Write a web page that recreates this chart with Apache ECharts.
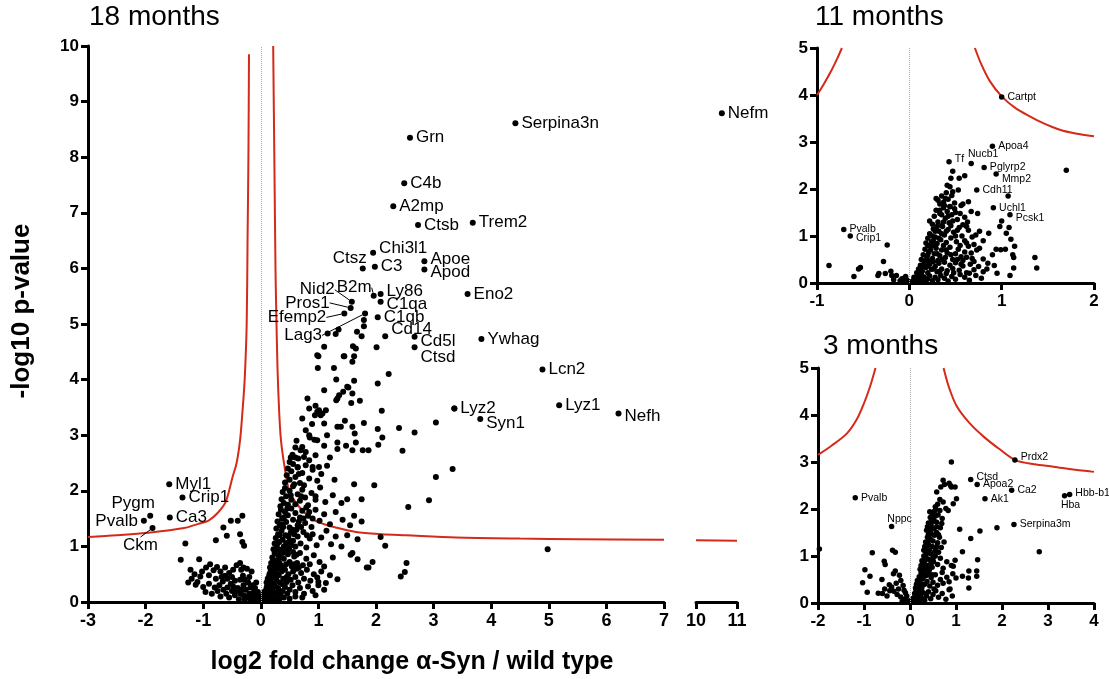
<!DOCTYPE html>
<html>
<head>
<meta charset="utf-8">
<script src="https://cdn.jsdelivr.net/npm/echarts@6/dist/echarts.min.js"></script>
<style>
  html, body { margin: 0; padding: 0; background: #fff; }
  #main { width: 1109px; height: 679px; }
</style>
</head>
<body>
<div id="main"></div>
<script>
var chartDom = document.getElementById('main');
var myChart = echarts.init(chartDom, null, {renderer: 'canvas'});

// ---- 18 months: unlabeled proteins [log2 FC, -log10 p]
var mainPoints = [
  // left cluster
  [-1.22,0.58],[-1.15,0.50],[-1.20,0.42],[-1.10,0.36],[-1.02,0.55],[-0.95,0.62],[-0.88,0.68],[-0.82,0.57],[-0.76,0.63],[-0.70,0.55],
  [-0.62,0.47],[-0.55,0.52],[-0.48,0.58],[-0.42,0.66],[-0.36,0.70],[-0.34,0.58],[-0.31,0.47],[-0.36,0.40],[-0.45,0.38],[-0.52,0.33],
  [-0.58,0.42],[-0.66,0.37],[-0.72,0.30],[-0.80,0.26],[-0.90,0.33],[-1.00,0.27],[-0.96,0.18],[-0.85,0.15],[-0.75,0.20],[-0.65,0.22],
  [-0.60,0.15],[-0.50,0.20],[-0.45,0.12],[-0.40,0.25],[-0.30,0.30],[-0.26,0.22],[-0.22,0.35],[-0.20,0.15],[-0.18,0.26],[-0.15,0.10],
  [-0.12,0.18],[-0.10,0.06],[-0.08,0.12],[-0.06,0.03],[-0.25,0.08],[-0.35,0.15],[-0.55,0.08],[-0.70,0.10],[-0.38,0.05],[-0.30,0.12],
  [-0.14,0.30],[-0.28,0.40],[-0.20,0.45],[-0.16,0.55],[-0.24,0.60],[-0.48,0.28],[-0.58,0.26],[-0.42,0.20],[-0.33,0.22],[-0.28,0.05],
  [-0.22,0.10],[-0.18,0.04],[-0.12,0.02],[-0.04,0.08],[-0.50,0.45],[-0.68,0.45],[-0.78,0.42],[-0.90,0.48],[-1.05,0.46],[-0.62,0.62],
  [-0.30,0.62],[-0.10,0.25],[-0.08,0.35],[-0.05,0.18],[-0.02,0.10],
  [-1.39,0.76],[-1.07,0.77],[-1.26,0.35],[-1.13,0.31],[-0.78,1.11],[-1.31,1.05],[-0.65,1.34],[-0.52,1.46],[-0.40,1.46],[-0.32,1.55],
  [-0.59,1.19],[-0.36,1.22],[-0.32,1.08],[-0.29,1.01],
  // right arm, by height
  [0.00,0.02],[0.03,0.05],[0.05,0.03],[0.07,0.08],[0.10,0.06],[0.12,0.10],[0.15,0.05],[0.18,0.09],[0.22,0.04],[0.27,0.07],
  [0.32,0.05],[0.40,0.08],[0.50,0.06],[0.60,0.10],[-0.02,0.04],[0.08,0.02],
  [0.05,0.15],[0.08,0.20],[0.10,0.25],[0.12,0.14],[0.14,0.30],[0.17,0.18],[0.20,0.22],[0.22,0.13],[0.25,0.28],[0.28,0.17],
  [0.30,0.25],[0.34,0.14],[0.38,0.20],[0.42,0.27],[0.46,0.15],[0.50,0.22],[0.55,0.30],[0.60,0.18],[0.68,0.25],[0.75,0.15],
  [0.82,0.28],[0.90,0.20],[1.00,0.30],[1.10,0.22],[0.95,0.12],[0.72,0.08],
  [0.10,0.35],[0.12,0.42],[0.15,0.50],[0.17,0.38],[0.19,0.58],[0.21,0.45],[0.23,0.33],[0.25,0.52],[0.27,0.40],[0.29,0.60],
  [0.31,0.48],[0.33,0.35],[0.36,0.55],[0.39,0.42],[0.42,0.58],[0.45,0.36],[0.48,0.50],[0.52,0.40],[0.56,0.55],[0.60,0.45],
  [0.65,0.35],[0.70,0.52],[0.75,0.42],[0.80,0.58],[0.86,0.38],[0.92,0.50],[0.98,0.44],[1.05,0.55],[1.13,0.34],[1.20,0.48],
  [1.33,0.41],[1.00,0.36],[0.62,0.60],
  [0.16,0.62],[0.18,0.70],[0.20,0.80],[0.22,0.66],[0.24,0.88],[0.26,0.74],[0.28,0.64],[0.30,0.84],[0.32,0.70],[0.34,0.90],
  [0.37,0.62],[0.40,0.78],[0.44,0.68],[0.47,0.86],[0.50,0.72],[0.54,0.64],[0.58,0.82],[0.63,0.70],[0.68,0.88],[0.73,0.66],
  [0.79,0.78],[0.85,0.68],[0.92,0.84],[1.02,0.72],[1.10,0.64],[1.25,0.80],[1.56,0.85],[1.59,0.88],[1.68,0.77],[1.87,0.62],
  [1.94,0.72],[1.84,0.62],
  [0.22,0.95],[0.24,1.05],[0.26,1.15],[0.28,0.98],[0.30,1.22],[0.32,1.08],[0.34,0.94],[0.36,1.28],[0.38,1.12],[0.40,1.00],
  [0.43,1.20],[0.46,1.06],[0.49,0.96],[0.52,1.25],[0.56,1.10],[0.60,1.00],[0.64,1.18],[0.69,1.05],[0.74,1.26],[0.79,0.98],
  [0.85,1.14],[0.90,1.22],[0.97,1.02],[1.05,1.16],[1.14,1.28],[1.22,1.04],[1.40,1.00],[1.50,1.20],[1.68,1.13],[2.08,1.17],
  [2.16,1.01],[1.30,1.18],
  [0.27,1.32],[0.29,1.45],[0.31,1.58],[0.33,1.38],[0.35,1.66],[0.37,1.50],[0.39,1.35],[0.42,1.62],[0.44,1.44],[0.47,1.56],
  [0.50,1.34],[0.53,1.68],[0.56,1.48],[0.60,1.60],[0.64,1.38],[0.68,1.52],[0.72,1.64],[0.77,1.42],[0.82,1.55],[0.88,1.35],
  [0.95,1.66],[1.02,1.46],[1.10,1.58],[1.20,1.40],[1.30,1.62],[1.42,1.48],[1.55,1.38],[1.62,1.55],[1.75,1.45],[2.56,1.71],
  [0.34,1.72],[0.36,1.85],[0.38,1.98],[0.40,1.78],[0.42,2.05],[0.44,1.90],[0.47,1.75],[0.50,2.00],[0.53,1.84],[0.56,2.08],
  [0.60,1.76],[0.64,1.94],[0.68,1.82],[0.72,2.02],[0.77,1.88],[0.82,1.74],[0.88,1.96],[0.95,1.84],[1.03,2.06],[1.12,1.80],
  [1.25,1.92],[1.40,1.78],[1.50,1.85],[1.62,2.12],[1.75,1.85],[1.97,2.10],[2.92,1.83],
  [0.42,2.15],[0.45,2.28],[0.47,2.40],[0.50,2.20],[0.53,2.35],[0.56,2.48],[0.60,2.25],[0.64,2.42],[0.68,2.14],[0.72,2.32],
  [0.78,2.46],[0.84,2.22],[0.90,2.38],[0.98,2.18],[1.05,2.30],[1.15,2.45],[0.64,2.43],[0.90,2.43],[1.01,2.43],[1.28,2.20],
  [3.04,2.25],[3.33,2.39],
  [0.50,2.52],[0.55,2.65],[0.60,2.78],[0.65,2.58],[0.69,2.73],[0.72,2.79],[0.75,2.61],[0.78,2.70],[0.84,2.55],[0.95,2.64],
  [0.98,2.91],[0.93,2.92],[1.10,2.81],[1.33,2.87],[1.33,2.75],[1.48,2.81],[1.59,2.73],[1.65,2.87],[1.77,2.73],[1.87,2.73],
  [2.04,2.83],[2.46,2.72],[2.11,2.96],[0.62,2.90],[0.85,2.96],[1.20,2.60],
  [0.78,3.09],[0.84,3.00],[1.15,3.00],[1.63,3.03],[0.89,3.20],[1.10,3.21],[1.33,3.15],[1.39,3.15],[1.59,3.15],[2.03,3.11],
  [2.40,3.13],[2.67,3.05],[3.04,3.23],[1.46,3.26],[1.79,3.22],[0.84,3.48],[0.95,3.53],[1.01,3.45],[1.07,3.39],[1.13,3.45],
  [1.04,3.36],[0.98,3.42],[0.94,3.36],[2.10,3.44],[3.36,3.48],[0.72,3.30],
  [0.81,3.66],[1.43,3.78],[1.36,3.72],[1.31,3.63],[1.59,3.75],[1.72,3.62],[1.57,3.58],[1.10,3.81],[1.52,3.86],[1.31,4.00],
  [1.62,3.98],[2.03,3.93],[1.33,3.66],[1.50,3.87],
  [0.99,4.21],[1.27,4.21],[2.22,4.10],[1.00,4.42],[1.44,4.42],[1.62,4.42],[1.59,4.32],[1.10,4.59],[1.60,4.60],[1.65,4.56],
  [2.01,4.58],[1.16,4.83],[1.30,4.82],[1.35,4.90],[1.67,4.86],[1.75,4.78],[1.79,4.96],[1.79,5.07],[0.98,4.44],[1.45,4.42],
  [2.43,0.46],[2.50,0.54],[2.53,0.70],[4.98,0.95],
  // extra fill of the dense arm
  [0.04,0.10],[0.06,0.18],[0.09,0.12],[0.11,0.28],[0.13,0.22],[0.16,0.32],[0.18,0.44],[0.20,0.30],[0.23,0.50],[0.26,0.60],
  [0.28,0.50],[0.30,0.72],[0.33,0.80],[0.35,0.66],[0.38,0.88],[0.41,0.95],[0.44,1.05],[0.46,0.90],[0.48,1.18],[0.50,1.10],
  [0.53,1.02],[0.55,1.30],[0.58,1.22],[0.62,1.30],[0.66,1.45],[0.70,1.35],[0.74,1.50],[0.79,1.70],[0.84,1.62],[0.70,1.90],
  [0.75,2.10],[0.66,2.30],[0.58,2.12],[0.52,1.92],[0.46,1.68],[0.40,1.52],[0.36,1.40],[0.33,1.20],[0.29,1.05],[0.26,0.95],
  [0.20,0.70],[0.17,0.55],[0.14,0.45],[0.62,0.85],[0.66,0.62],[0.58,0.68],[0.45,0.45],[0.38,0.32],[0.32,0.20],[0.24,0.15],
  [0.56,0.90],[0.80,1.20],[0.90,1.50],[0.95,1.90],[0.60,2.60],[0.52,2.60]
];

// 18 months: labeled proteins
var mainGenes = ['Serpina3n','Grn','C4b','A2mp','Ctsb','Trem2','Chi3l1','Ctsz','C3','Apoe','Apod','Eno2','Ly86',
  'C1qa','C1qb','Cd14','Cd5l','Ctsd','Ywhag','Lcn2','Lyz2','Syn1','Lyz1','Nefh','Myl1','Crip1','Pygm','Pvalb','Ca3'];
var mainGeneFC = [4.42,2.59,2.49,2.30,2.73,3.68,1.95,1.77,1.98,2.84,2.84,3.59,2.08,
  2.08,2.03,2.16,2.67,2.67,3.83,4.89,3.36,3.81,5.18,6.21,-1.59,-1.36,-1.92,-2.03,-1.58];
var mainGeneP = [8.61,8.35,7.53,7.12,6.78,6.82,6.28,6.00,6.03,6.13,5.98,5.54,5.54,
  5.40,5.12,4.78,4.77,4.58,4.73,4.18,3.48,3.29,3.54,3.39,2.12,1.88,1.55,1.46,1.52];
// labels with leader lines
var leaderGenes = ['Nid2','Pros1','Efemp2','Lag3','B2m','Ckm'];
var leaderFC = [1.58,1.56,1.45,1.81,1.96,-1.88];
var leaderP = [5.40,5.29,5.19,5.19,5.51,1.33];
// broken axis part
var farGenes = ['Nefm'];
var farFC = [10.63];
var farP = [8.79];

// significance curves
var curveLeftX = [-3,-2.5,-1.91,-1.33,-1.1,-0.9,-0.75,-0.61,-0.49,-0.42,-0.36,-0.32,-0.28,-0.245,-0.23,-0.215,-0.205];
var curveLeftY = [1.17,1.2,1.25,1.33,1.4,1.47,1.6,1.8,2.25,2.5,2.91,3.4,4.0,5.0,6.5,8.0,9.85];
var curveRightX = [0.215,0.235,0.255,0.265,0.29,0.32,0.35,0.41,0.49,0.6,0.72,0.88,1.07,1.3,1.65,2.1,2.52,3.39,4.5,5.5,7];
var curveRightY = [10,8,6,5.4,4.2,3.4,2.91,2.45,2.01,1.8,1.65,1.5,1.41,1.34,1.26,1.22,1.2,1.16,1.14,1.13,1.12];
var curveFarX = [10,11];
var curveFarY = [1.11,1.10];

// ---- 11 months
var m11Points = [
  [-0.87,0.37],[-0.60,0.14],[-0.55,0.30],[-0.53,0.33],[-0.34,0.16],[-0.33,0.20],[-0.28,0.46],[-0.24,0.81],[-0.26,0.20],[-0.20,0.25],
  [-0.19,0.16],[-0.14,0.16],[-0.17,0.07],[-0.10,0.05],[-0.05,0.11],[-0.06,0.04],[-0.04,0.14],[-0.02,0.06],[-0.08,0.09],
  [0.02,0.02],[0.04,0.05],[0.06,0.03],[0.08,0.08],[0.10,0.04],[0.12,0.10],[0.14,0.06],[0.16,0.13],[0.18,0.03],[0.20,0.09],
  [0.22,0.15],[0.25,0.05],[0.28,0.12],[0.31,0.07],[0.34,0.16],[0.38,0.10],[0.42,0.04],[0.46,0.14],[0.50,0.08],[0.55,0.18],
  [0.60,0.12],[0.65,0.06],[0.72,0.16],[0.78,0.10],[0.09,0.17],[0.13,0.19],[0.05,0.12],
  [0.08,0.22],[0.10,0.30],[0.12,0.38],[0.14,0.25],[0.16,0.42],[0.18,0.33],[0.20,0.22],[0.22,0.40],[0.24,0.29],[0.26,0.45],
  [0.28,0.35],[0.30,0.24],[0.32,0.42],[0.35,0.30],[0.38,0.44],[0.41,0.26],[0.44,0.38],[0.47,0.31],[0.50,0.43],[0.54,0.27],
  [0.58,0.36],[0.62,0.22],[0.66,0.40],[0.70,0.28],[0.75,0.35],[0.80,0.24],[0.85,0.42],[0.67,0.64],[0.70,0.46],[0.65,0.21],
  [0.92,0.37],[0.95,0.21],[1.09,0.16],[1.13,0.32],[0.12,0.27],[0.20,0.36],
  [0.13,0.50],[0.15,0.60],[0.17,0.72],[0.19,0.55],[0.21,0.66],[0.23,0.78],[0.25,0.52],[0.27,0.62],[0.29,0.74],[0.31,0.48],
  [0.33,0.58],[0.35,0.70],[0.37,0.80],[0.39,0.54],[0.41,0.64],[0.44,0.76],[0.47,0.50],[0.50,0.62],[0.53,0.72],[0.56,0.56],
  [0.60,0.66],[0.64,0.78],[0.68,0.52],[0.73,0.70],[0.80,0.51],[0.76,0.74],[0.94,0.72],[0.99,0.71],[1.04,0.72],[1.12,0.60],
  [1.13,0.54],[1.36,0.54],[1.38,0.32],[1.14,0.78],[0.58,0.48],[0.22,0.47],
  [0.18,0.85],[0.20,0.95],[0.22,1.05],[0.24,0.88],[0.26,1.15],[0.28,0.98],[0.30,0.84],[0.32,1.10],[0.34,0.92],[0.36,1.20],
  [0.38,1.02],[0.40,0.86],[0.42,1.14],[0.45,0.96],[0.48,1.08],[0.51,0.88],[0.54,1.18],[0.57,1.00],[0.60,0.90],[0.64,1.12],
  [0.68,0.98],[0.76,1.10],[0.86,1.06],[0.98,1.20],[1.08,1.18],[1.05,1.06],[1.10,0.93],[0.62,1.20],[0.27,0.80],
  [0.22,1.32],[0.25,1.25],[0.27,1.42],[0.29,1.55],[0.31,1.30],[0.33,1.48],[0.35,1.22],[0.37,1.60],[0.39,1.38],[0.41,1.52],
  [0.43,1.28],[0.46,1.45],[0.49,1.58],[0.52,1.35],[0.55,1.48],[0.58,1.24],[0.60,1.40],[0.63,1.30],[0.67,1.52],[0.74,1.48],
  [1.00,1.32],[0.33,1.55],[0.44,1.62],
  [0.29,1.80],[0.31,1.76],[0.33,1.68],[0.35,1.85],[0.37,1.72],[0.40,1.92],[0.42,1.78],[0.44,1.63],[0.46,1.86],[0.49,1.70],
  [0.53,1.98],[0.58,1.68],[0.64,1.73],[0.47,1.94],[0.44,2.05],[0.38,1.65],[1.07,1.85],
  [0.47,2.38],[0.45,2.23],[0.54,2.23],[0.60,2.28],[0.41,2.08],[1.70,2.40],
  [0.15,0.35],[0.18,0.48],[0.20,0.60],[0.23,0.70],[0.26,0.90],[0.28,1.10],[0.30,1.20],[0.32,0.95],[0.35,1.05],[0.37,1.30],
  [0.40,1.10],[0.42,1.42],[0.45,1.22],[0.47,1.32],[0.50,1.00],[0.52,1.12],[0.55,0.80],[0.52,0.50],[0.45,0.60],[0.40,0.70],
  [0.36,0.50],[0.30,0.62],[0.26,0.30],[0.33,0.25],[0.40,0.20],[0.48,0.22],[0.56,0.40],[0.62,0.55],[0.62,0.85],[0.70,0.82],
  [0.72,1.02],[0.80,0.90],[0.90,0.60],[0.84,0.30],[0.35,1.45],[0.39,1.80],[0.50,1.50],[0.56,1.65],[0.25,1.00],[0.20,0.80]
];
var m11Genes = ['Cartpt','Apoa4','Tf','Nucb1','Pglyrp2','Mmp2','Cdh11','Uchl1','Pcsk1','Pvalb','Crip1'];
var m11FC = [1.00,0.90,0.43,0.67,0.81,0.94,0.73,0.91,1.09,-0.71,-0.64];
var m11P = [3.96,2.91,2.58,2.54,2.46,2.32,1.98,1.60,1.45,1.14,1.00];
var m11LeftX = [-1.0,-0.93,-0.85,-0.78,-0.73];
var m11LeftY = [4.0,4.22,4.5,4.78,5.0];
var m11RightX = [0.71,0.78,0.87,1.0,1.15,1.3,1.45,1.63,1.8,2.0];
var m11RightY = [5.0,4.65,4.3,3.97,3.72,3.55,3.4,3.26,3.18,3.12];

// ---- 3 months
var m3Points = [
  [-1.97,1.15],[-0.82,1.07],[-0.98,0.71],[-0.87,0.57],[-1.03,0.43],[-0.93,0.23],[-0.69,0.21],[-0.61,0.50],[-0.56,0.89],[-0.54,0.82],
  [-0.38,1.12],[-0.32,1.08],[-0.45,0.39],[-0.40,0.34],[-0.44,0.26],[-0.36,0.62],[-0.32,0.68],[-0.23,0.59],[-0.20,0.48],[-0.15,0.37],
  [-0.13,0.27],[-0.28,0.18],[-0.20,0.13],[-0.12,0.08],[-0.07,0.15],[-0.05,0.05],[-0.50,0.15],[-0.55,0.30],[-0.30,0.42],[-0.10,0.22],
  [-0.25,0.30],[-0.60,0.20],[-0.35,0.25],[-0.17,0.03],
  [0.01,0.02],[0.03,0.06],[0.05,0.03],[0.07,0.10],[0.09,0.05],[0.11,0.14],[0.13,0.08],[0.15,0.20],[0.17,0.12],[0.19,0.26],
  [0.21,0.04],[0.23,0.17],[0.26,0.10],[0.29,0.22],[0.32,0.06],[0.36,0.15],[0.40,0.24],[0.45,0.09],[0.50,0.18],[0.56,0.26],
  [0.62,0.12],[0.70,0.20],[0.78,0.08],[0.85,0.28],[0.92,0.15],
  [0.12,0.32],[0.14,0.40],[0.16,0.48],[0.18,0.36],[0.20,0.56],[0.22,0.44],[0.24,0.64],[0.26,0.34],[0.28,0.52],[0.30,0.68],
  [0.32,0.40],[0.34,0.58],[0.37,0.46],[0.40,0.62],[0.43,0.36],[0.46,0.54],[0.50,0.44],[0.55,0.60],[0.60,0.38],[0.66,0.50],
  [0.72,0.42],[0.80,0.55],[0.87,0.30],[0.93,0.62],[1.00,0.53],[1.14,0.57],[1.27,0.53],[1.28,0.68],[1.45,0.68],[1.45,0.57],
  [1.28,0.32],[0.70,0.65],[0.85,0.45],
  [0.22,0.72],[0.24,0.80],[0.26,0.90],[0.28,0.76],[0.30,1.00],[0.32,0.84],[0.34,0.72],[0.36,0.95],[0.38,1.08],[0.40,0.80],
  [0.42,0.92],[0.45,1.04],[0.48,0.76],[0.51,0.88],[0.55,1.00],[0.60,0.82],[0.66,0.95],[0.72,0.74],[0.90,0.80],[0.94,0.78],
  [0.98,0.91],[1.47,0.92],[1.14,1.09],[0.62,1.08],[0.80,0.88],
  [0.30,1.12],[0.32,1.20],[0.34,1.30],[0.36,1.16],[0.38,1.40],[0.40,1.24],[0.42,1.12],[0.44,1.36],[0.46,1.48],[0.48,1.20],
  [0.50,1.32],[0.53,1.44],[0.56,1.16],[0.60,1.28],[0.64,1.40],[0.68,1.18],[0.74,1.30],[0.40,1.46],[1.32,1.37],[0.58,1.50],
  [0.36,1.55],[0.38,1.62],[0.40,1.70],[0.42,1.58],[0.44,1.82],[0.46,1.66],[0.48,1.90],[0.50,1.74],[0.52,1.58],[0.55,1.85],
  [0.58,1.72],[0.61,1.87],[0.65,1.97],[0.69,1.69],[0.43,1.94],[0.52,1.76],[0.58,1.62],[0.78,2.01],[0.83,1.97],[1.08,1.57],
  [1.52,1.53],[1.89,1.60],
  [0.58,2.36],[0.67,2.47],[0.72,2.61],[0.75,2.52],[0.85,2.55],[0.88,2.50],[0.90,2.47],[0.98,2.47],[1.01,2.22],[0.72,2.15],
  [0.94,2.11],[0.65,2.20],[0.55,2.05],[0.90,3.00],[2.81,1.09],
  [0.10,0.20],[0.13,0.25],[0.16,0.30],[0.19,0.42],[0.21,0.50],[0.24,0.55],[0.27,0.62],[0.29,0.80],[0.31,0.90],[0.33,0.98],
  [0.35,1.05],[0.37,1.22],[0.39,1.30],[0.41,1.40],[0.43,1.50],[0.45,1.60],[0.47,1.75],[0.50,1.85],[0.53,1.95],[0.56,2.00],
  [0.60,2.10],[0.35,0.80],[0.38,0.60],[0.42,0.70],[0.46,0.85],[0.50,0.95],[0.54,1.10],[0.58,1.20],[0.62,1.45],[0.66,1.60],
  [0.70,1.80],[0.48,0.60],[0.52,0.30],[0.25,0.30],[0.28,0.40]
];
var m3Genes = ['Prdx2','Ctsd','Apoa2','Ca2','Ak1','Hbb-b1','Hba','Serpina3m','Pvalb','Nppc'];
var m3FC = [2.28,1.32,1.46,2.21,1.63,3.47,3.36,2.26,-1.19,-0.40];
var m3P = [3.04,2.63,2.52,2.40,2.22,2.31,2.28,1.67,2.24,1.63];
var m3LeftX = [-2.0,-1.7,-1.37,-1.15,-1.0,-0.87,-0.75];
var m3LeftY = [3.15,3.35,3.61,3.92,4.25,4.6,5.0];
var m3RightX = [0.73,0.85,1.02,1.3,1.6,1.95,2.29,2.7,3.12,3.55,4.0];
var m3RightY = [5.0,4.58,4.18,3.82,3.54,3.27,3.04,2.95,2.9,2.84,2.79];

// ---- styles
var red = '#d52a1a';
var fontMain = 'Liberation Sans, Arial, sans-serif';

// where each label sits relative to its dot (default: right)
var labelPos = {
  'Chi3l1': {offset: [0, -5]},
  'Ctsz': {position: 'top', offset: [-13, 4]},
  'Apoe': {offset: [0, -2]},
  'Apod': {offset: [0, 3]},
  'Ly86': {offset: [0, -3]},
  'C1qa': {offset: [0, 3]},
  'Cd14': {offset: [0, -7]},
  'Cd5l': {offset: [0, 5]},
  'Ctsd': {offset: [0, 10]},
  'Syn1': {offset: [0, 4]},
  'Nefh': {offset: [0, 3]},
  'Pygm': {position: 'top', offset: [-17, 2]},
  'Pvalb': {position: 'left'}
};
var leaderShift = {
  'Nid2': [-11, -12], 'Pros1': [-15, -5], 'Efemp2': [-12, 4],
  'Lag3': [-37, 22], 'B2m': [4, -8], 'Ckm': [-12, 3]
};
var smallPos = {
  'Nucb1': {position: 'top', offset: [12, 2]},
  'Mmp2': {offset: [0, 5]},
  'Pcsk1': {offset: [0, 3]},
  'Tf': {offset: [0, -3]},
  'Hba': {position: 'bottom', offset: [6, -2]},
  'Hbb-b1': {offset: [0, -1]},
  'Crip1': {offset: [0, 2]},
  'Ctsd': {offset: [0, -2]},
  'Prdx2': {offset: [0, -3]},
  'Nppc': {position: 'top', offset: [8, 4]}
};

function pairs(xs, ys) {
  return xs.map(function (x, i) { return [x, ys[i]]; });
}
function labeled(names, xs, ys, pos, size) {
  return names.map(function (n, i) {
    var lab = Object.assign({show: true, position: 'right', distance: 3, formatter: n,
      fontSize: size, color: '#000', fontFamily: fontMain}, pos[n] || {});
    return {name: n, value: [xs[i], ys[i]], label: lab};
  });
}

function xAx(grid, min, max, size) {
  return {
    gridIndex: grid, type: 'value', min: min, max: max, interval: 1,
    axisLine: {show: true, onZero: false, lineStyle: {color: '#000', width: 3}},
    axisTick: {show: true, length: 7, lineStyle: {color: '#000', width: 3}},
    axisLabel: {color: '#000', fontWeight: 'bold', fontSize: size, fontFamily: fontMain, margin: 10},
    splitLine: {show: false}
  };
}
function yAx(grid, max, size) {
  return {
    gridIndex: grid, type: 'value', min: 0, max: max, interval: 1,
    axisLine: {show: true, onZero: false, lineStyle: {color: '#000', width: 3}},
    axisTick: {show: true, length: 7, lineStyle: {color: '#000', width: 3}},
    axisLabel: {color: '#000', fontWeight: 'bold', fontSize: size, fontFamily: fontMain, margin: 9},
    splitLine: {show: false}
  };
}
function dots(xi, data, size, extra) {
  return Object.assign({
    type: 'scatter', xAxisIndex: xi, yAxisIndex: xi, data: data,
    symbolSize: size, itemStyle: {color: '#000', opacity: 1}, silent: true, z: 3
  }, extra || {});
}
function curve(xi, data) {
  return {
    type: 'line', xAxisIndex: xi, yAxisIndex: xi, data: data, smooth: 0.3,
    showSymbol: false, lineStyle: {color: red, width: 2}, silent: true, z: 2
  };
}
function zeroLine() {
  return {
    silent: true, symbol: 'none', label: {show: false},
    lineStyle: {type: 'dotted', color: '#aaa', width: 1},
    data: [{xAxis: 0}]
  };
}
var titleStyle = {fontSize: 28, fontWeight: 'normal', color: '#000', fontFamily: fontMain};

option = {
  animation: false,
  title: [
    {text: '18 months', left: 89, top: 3, padding: 0, textStyle: titleStyle},
    {text: '11 months', left: 815, top: 3, padding: 0, textStyle: titleStyle},
    {text: '3 months', left: 823, top: 332, padding: 0, textStyle: titleStyle}
  ],
  grid: [
    {left: 88, top: 46, width: 576, height: 556},
    {left: 696, top: 46, width: 41, height: 556},
    {left: 817, top: 48, width: 277, height: 235},
    {left: 818, top: 368, width: 276, height: 235}
  ],
  xAxis: [
    xAx(0, -3, 7, 18),
    xAx(1, 10, 11, 18),
    xAx(2, -1, 2, 17),
    xAx(3, -2, 4, 17)
  ],
  yAxis: [
    yAx(0, 10, 17),
    Object.assign(yAx(1, 10, 17), {show: false}),
    yAx(2, 5, 17),
    yAx(3, 5, 17)
  ],
  graphic: [
    {type: 'text', x: 412, y: 662, style: {text: 'log2 fold change α-Syn / wild type',
      fontSize: 25, fontWeight: 'bold', fill: '#000', fontFamily: fontMain, align: 'center', verticalAlign: 'middle'}},
    {type: 'text', x: 22, y: 311, rotation: Math.PI / 2, style: {text: '-log10 p-value',
      fontSize: 26, fontWeight: 'bold', fill: '#000', fontFamily: fontMain, align: 'center', verticalAlign: 'middle'}}
  ],
  series: [
    dots(0, mainPoints, 6, {markLine: zeroLine()}),
    dots(0, labeled(mainGenes, mainGeneFC, mainGeneP, labelPos, 17), 6),
    dots(0, labeled(leaderGenes, leaderFC, leaderP, {}, 17).map(function (d) {
      d.label.position = d.name === 'Ckm' ? 'bottom' : 'left';
      return d;
    }), 6, {
      labelLine: {show: true, lineStyle: {color: '#000', width: 1}},
      labelLayout: function (p) {
        var s = leaderShift[leaderGenes[p.dataIndex]];
        return {dx: s[0], dy: s[1]};
      }
    }),
    dots(1, labeled(farGenes, farFC, farP, {}, 17), 6),
    curve(0, pairs(curveLeftX, curveLeftY)),
    curve(0, pairs(curveRightX, curveRightY)),
    curve(1, pairs(curveFarX, curveFarY)),

    dots(2, m11Points, 5.5, {markLine: zeroLine()}),
    dots(2, labeled(m11Genes, m11FC, m11P, smallPos, 10.5), 5.5),
    curve(2, pairs(m11LeftX, m11LeftY)),
    curve(2, pairs(m11RightX, m11RightY)),

    dots(3, m3Points, 5.5, {markLine: zeroLine()}),
    dots(3, labeled(m3Genes, m3FC, m3P, smallPos, 10.5), 5.5),
    curve(3, pairs(m3LeftX, m3LeftY)),
    curve(3, pairs(m3RightX, m3RightY))
  ]
};
myChart.setOption(option);
</script>
</body>
</html>
